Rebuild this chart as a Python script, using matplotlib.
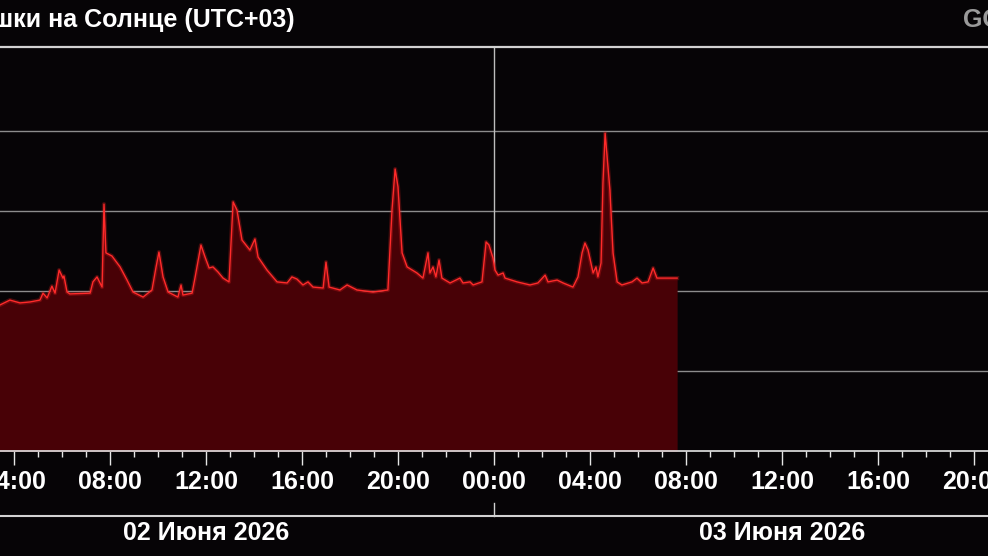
import matplotlib
matplotlib.use("Agg")
import matplotlib.pyplot as plt
import matplotlib.transforms as mtransforms
import numpy as np

# GOES X-ray flux, hours counted from 00:00 on 02 June 2026 (UTC+03)
time_h = [
    3.20, 3.42, 3.83, 4.25, 4.67, 5.08, 5.21, 5.38, 5.58, 5.71, 5.88, 6.04,
    6.08, 6.21, 6.33, 7.17, 7.29, 7.46, 7.67, 7.75, 7.83, 8.08, 8.42, 8.71,
    8.96, 9.38, 9.75, 9.92, 10.04, 10.21, 10.42, 10.83, 10.96, 11.04, 11.42,
    11.54, 11.79, 11.96, 12.13, 12.29, 12.50, 12.71, 12.96, 13.13, 13.29,
    13.50, 13.83, 14.04, 14.17, 14.54, 14.96, 15.38, 15.58, 15.79, 16.04,
    16.25, 16.46, 16.88, 17.00, 17.13, 17.58, 17.88, 18.29, 18.96, 19.58,
    19.75, 19.88, 20.00, 20.17, 20.38, 20.79, 21.04, 21.25, 21.33, 21.46,
    21.58, 21.71, 21.83, 22.17, 22.58, 22.71, 23.00, 23.13, 23.50, 23.67,
    23.79, 23.96, 24.04, 24.17, 24.38, 24.46, 24.96, 25.50, 25.83, 26.13,
    26.25, 26.63, 26.88, 27.29, 27.50, 27.67, 27.79, 27.92, 28.13, 28.25,
    28.33, 28.46, 28.54, 28.63, 28.83, 28.96, 29.13, 29.33, 29.75, 29.96,
    30.17, 30.42, 30.63, 30.79, 31.04, 31.63,
]
flux = [
    6.6e-7, 6.7e-7, 7.7e-7, 7.1e-7, 7.3e-7, 7.7e-7, 9.4e-7, 8.2e-7, 1.15e-6,
    9.4e-7, 1.83e-6, 1.45e-6,
    1.54e-6, 9.7e-7, 9.2e-7, 9.4e-7, 1.3e-6, 1.5e-6, 1.12e-6, 1.22e-5,
    3.0e-6, 2.74e-6, 2.0e-6, 1.37e-6,
    9.7e-7, 8.4e-7, 1.03e-6, 2.0e-6, 3.07e-6, 1.5e-6, 9.7e-7, 8.4e-7, 1.19e-6,
    8.9e-7, 9.4e-7,
    1.45e-6, 3.76e-6, 2.66e-6, 1.94e-6, 2.0e-6, 1.73e-6, 1.45e-6, 1.3e-6,
    1.3e-5, 1.03e-5,
    4.34e-6, 3.25e-6, 4.47e-6, 2.66e-6, 1.83e-6, 1.3e-6, 1.26e-6, 1.5e-6,
    1.41e-6, 1.19e-6,
    1.3e-6, 1.12e-6, 1.09e-6, 2.3e-6, 1.12e-6, 1.03e-6, 1.19e-6, 1.03e-6,
    9.7e-7, 1.03e-6,
    1.03e-5, 3.35e-5, 2.0e-5, 3.0e-6, 2.0e-6, 1.68e-6, 1.45e-6, 3.0e-6,
    1.68e-6, 2.0e-6,
    1.5e-6, 2.44e-6, 1.45e-6, 1.26e-6, 1.45e-6, 1.26e-6, 1.3e-6, 1.19e-6,
    1.3e-6, 4.1e-6,
    3.76e-6, 2.58e-6, 1.83e-6, 1.58e-6, 1.68e-6, 1.45e-6, 1.3e-6, 1.19e-6,
    1.26e-6, 1.58e-6,
    1.3e-6, 1.37e-6, 1.26e-6, 1.12e-6, 1.5e-6, 3.0e-6, 3.98e-6, 3.25e-6,
    1.68e-6, 2.0e-6,
    1.5e-6, 2.24e-6, 2.24e-5, 9.4e-5, 1.83e-5, 3.0e-6, 1.3e-6, 1.19e-6,
    1.3e-6, 1.45e-6,
    1.26e-6, 1.3e-6, 1.94e-6, 1.45e-6, 1.45e-6, 1.45e-6,
]

tick_hours = [4, 8, 12, 16, 20, 24, 28, 32, 36, 40, 44]
tick_labels = ["04:00", "08:00", "12:00", "16:00", "20:00", "00:00",
               "04:00", "08:00", "12:00", "16:00", "20:00"]
day_hours = [12, 36]
day_labels = ["02 Июня 2026", "03 Июня 2026"]

bg = "#060406"
plt.rcParams["font.family"] = ["Liberation Sans", "DejaVu Sans"]
plt.rcParams["font.weight"] = "bold"

fig = plt.figure(figsize=(9.88, 5.56), dpi=100, facecolor=bg)
ax = fig.add_axes([0, 1 - 451 / 556, 1, 404 / 556])
ax.set_facecolor(bg)

ax.set_yscale("log")
ax.set_ylim(1e-8, 10 ** -2.95)
ax.set_xlim(3.4167, 44.5833)

for level in [1e-7, 1e-6, 1e-5, 1e-4]:
    ax.axhline(level, color="#8c8c8c", lw=1.0, zorder=1)
ax.axvline(24, color="#bdbdbd", lw=1.0, zorder=1)

ax.fill_between(time_h, flux, 1e-9, color="#480106", lw=0, zorder=2)
ax.plot(time_h, flux, color="#ff2020", lw=3.0, alpha=0.25, zorder=3)
ax.plot(time_h, flux, color="#ff2a2a", lw=1.0, zorder=4)

for side in ["left", "right"]:
    ax.spines[side].set_visible(False)
ax.spines["top"].set_color("#d2d2d2")
ax.spines["top"].set_linewidth(1.6)
ax.spines["bottom"].set_color("#e6e6e6")
ax.spines["bottom"].set_linewidth(1.2)

ax.set_yticks([])
ax.yaxis.set_minor_locator(matplotlib.ticker.NullLocator())
ax.set_xticks(tick_hours)
ax.set_xticklabels(tick_labels)
ax.set_xticks(np.arange(4, 45, 1), minor=True)
ax.tick_params(axis="x", which="major", direction="out", length=10,
               width=1.0, color="#e6e6e6", labelcolor="white",
               labelsize=18, pad=3.5)
ax.tick_params(axis="x", which="minor", direction="out", length=4.3,
               width=1.0, color="#e6e6e6")

# date row under the time axis
trans = mtransforms.blended_transform_factory(ax.transData, fig.transFigure)
fig.add_artist(plt.Line2D([0, 1], [1 - 516 / 556] * 2, color="#d2d2d2",
                          lw=1.5, transform=fig.transFigure))
fig.add_artist(plt.Line2D([24, 24], [1 - 503 / 556, 1 - 516 / 556],
                          color="#d2d2d2", lw=1.0, transform=trans))
for h, lab in zip(day_hours, day_labels):
    fig.text(h, 1 - 533 / 556, lab, transform=trans, ha="center",
             va="center", color="white", fontsize=18, fontweight="bold")

fig.text(295 / 988, 1 - 27 / 556, "Вспышки на Солнце (UTC+03)", ha="right",
         va="baseline", color="white", fontsize=18, fontweight="bold")
fig.text(963 / 988, 1 - 27 / 556, "GOES", ha="left", va="baseline",
         color="#9a9a9a", fontsize=18, fontweight="bold")

fig.savefig("out.png", dpi=100, facecolor=bg)
